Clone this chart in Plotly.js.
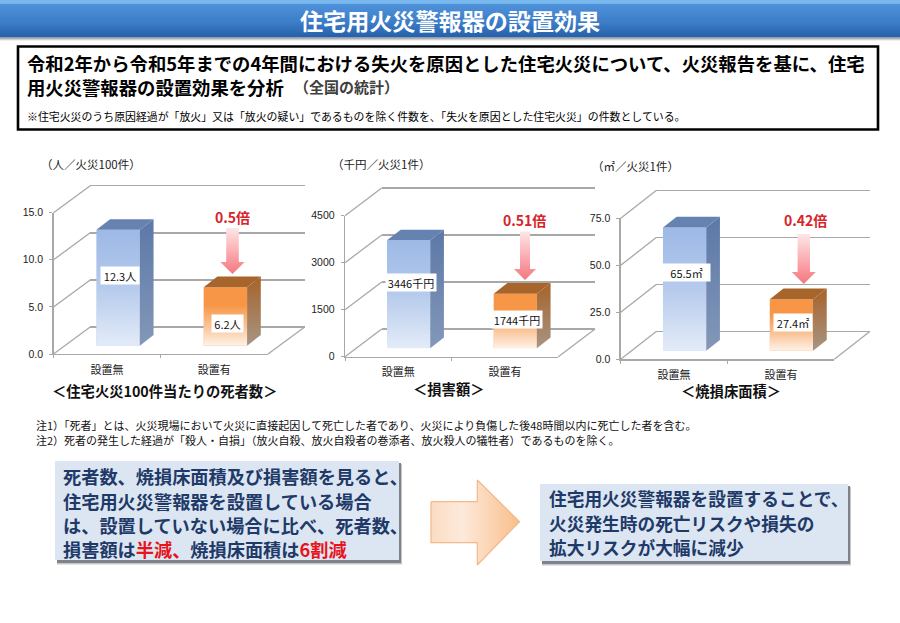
<!DOCTYPE html>
<html><head><meta charset="utf-8">
<script src="https://cdn.plot.ly/plotly-3.0.1.min.js"></script>
<style>html,body{margin:0;padding:0;background:#fff}</style></head>
<body><div id="chart" style="width:900px;height:623px"></div>
<script>
// ---- data ----
const categories = ['設置無', '設置有'];
const deathValues = [12.3, 6.2];
const damageValues = [3446, 1744];
const areaValues = [65.5, 27.4];
const deathTicks = [0, 5, 10, 15];
const damageTicks = [0, 1500, 3000, 4500];
const areaTicks = [0, 25, 50, 75];
const deathTickLabels = ['0.0', '5.0', '10.0', '15.0'];
const damageTickLabels = ['0', '1500', '3000', '4500'];
const areaTickLabels = ['0.0', '25.0', '50.0', '75.0'];
const deathRatio = '0.5倍';
const damageRatio = '0.51倍';
const areaRatio = '0.42倍';
const pageTitle = '住宅用火災警報器の設置効果';
const introLine1 = '令和2年から令和5年までの4年間における失火を原因とした住宅火災について、火災報告を基に、住宅';
const introLine2 = '用火災警報器の設置効果を分析';
const introLine2b = '（全国の統計）';
const introNote = '※住宅火災のうち原因経過が「放火」又は「放火の疑い」であるものを除く件数を、「失火を原因とした住宅火災」の件数としている。';
const note1 = '注1）「死者」とは、火災現場において火災に直接起因して死亡した者であり、火災により負傷した後48時間以内に死亡した者を含む。';
const note2 = '注2）死者の発生した経過が「殺人・自損」（放火自殺、放火自殺者の巻添者、放火殺人の犠牲者）であるものを除く。';
const leftLines = ['死者数、焼損床面積及び損害額を見ると、', '住宅用火災警報器を設置している場合', 'は、設置していない場合に比べ、死者数、',
  '損害額は<span style="color:#E8141C">半減、</span>焼損床面積は<span style="color:#E8141C">6割減</span>'];
const rightLines = ['住宅用火災警報器を設置することで、', '火災発生時の死亡リスクや損失の', '拡大リスクが大幅に減少'];

// ---- layout constants (pixels on the 900x623 page) ----
const W = 900, H = 623, FONT = '"Noto Sans CJK JP","Noto Sans",sans-serif';
const px = v => v / W, py = v => 1 - v / H;
const GRID = '#A8A8A8', TXT = '#222222';
const panels = [
  {values: deathValues, ticks: deathTicks, tickLabels: deathTickLabels, unit: '人', ratio: deathRatio,
   l: 53.5, r: 268, b: 354, t: 212.7, bx: 36.7, by: 27, sx: 11, sy: 8.3,
   labelY: [275.5, 323], labelW: [38, 31],
   unitText: '（人／火災100件）', unitX: 91, unitY: 164,
   title: '＜住宅火災100件当たりの死者数＞', titleX: 164.5, titleY: 390,
   ratioX: 232, ratioY: 216.5, arrow: {x: 232.5, sw: 6.3, hw: 12.2, top: 228, neck: 262, tip: 274}},
  {values: damageValues, ticks: damageTicks, tickLabels: damageTickLabels, unit: '千円', ratio: damageRatio,
   l: 345, r: 558.3, b: 356.7, t: 215.7, bx: 36.7, by: 27.7, sx: 10.3, sy: 8.4,
   labelY: [282, 320], labelW: [50, 50],
   unitText: '（千円／火災1件）', unitX: 381, unitY: 164,
   title: '＜損害額＞', titleX: 448, titleY: 388,
   ratioX: 524, ratioY: 220, arrow: {x: 525, sw: 5, hw: 11, top: 231.5, neck: 269, tip: 280}},
  {values: areaValues, ticks: areaTicks, tickLabels: areaTickLabels, unit: '㎡', ratio: areaRatio,
   l: 620.7, r: 834.3, b: 359.3, t: 218.3, bx: 35.5, by: 27.7, sx: 10.5, sy: 8.6,
   labelY: [272, 322.5], labelW: [47, 38],
   unitText: '（㎡／火災1件）', unitX: 635, unitY: 166,
   title: '＜焼損床面積＞', titleX: 731, titleY: 390,
   ratioX: 805, ratioY: 220.5, arrow: {x: 803.8, sw: 6.2, hw: 12, top: 234, neck: 272, tip: 284}}
];
const BAR_W = 0.405, DEPTH_X = 13.7, DEPTH_Y = 10.7, LABEL_H = 17, WALL_PAD = 3;
const skins = [
  {front: '#9DB9E6', side: ['#8398B8', '#5C78A8'], top: '#6682B0',
   fade: [[0, 'rgba(255,255,255,0.72)'], [0.5, 'rgba(255,255,255,0.25)'], [1, 'rgba(255,255,255,0)']]},
  {front: '#F79646', side: ['#A89484', '#A6632A'], top: '#A8652B',
   fade: [[0, 'rgba(255,255,255,0.88)'], [0.32, 'rgba(255,255,255,0.45)'], [0.7, 'rgba(255,255,255,0)'], [1, 'rgba(255,255,255,0)']]}
];

const traces = [], shapes = [], annotations = [];
const layout = {width: W, height: H, margin: {l: 0, r: 0, t: 0, b: 0}, autosize: false, showlegend: false,
  paper_bgcolor: '#fff', plot_bgcolor: 'rgba(0,0,0,0)', font: {family: FONT, color: TXT}, hovermode: false,
  shapes, annotations};
const axKey = (c, n) => c + 'axis' + (n === 1 ? '' : n);
const ref = (c, n) => c + (n === 1 ? '' : n);
const text = (x, y, t, size, color, o) => annotations.push(Object.assign({xref: 'paper', yref: 'paper', x: px(x), y: py(y), text: t,
  showarrow: false, xanchor: 'left', yanchor: 'middle', borderpad: 0, font: {family: FONT, size, color}}, o || {}));
const btext = (x, y, t, size, color, o) => { text(x, y, t, size, color, o); annotations[annotations.length - 1].font.weight = 700; };

panels.forEach((p, k) => {
  const back = 3 * k + 1, bars = 3 * k + 2, front = 3 * k + 3;
  const ymax = p.ticks[p.ticks.length - 1];
  const range = [0, ymax], xr = [-0.5, 1.5];
  const pxPerY = (p.b - p.t) / ymax, pxPerX = (p.r - p.l) / 2;
  const hidden = {visible: false, fixedrange: true};
  // back wall with its gridlines (padded so the first and last lines are not dropped at the axis ends)
  const padY = WALL_PAD / pxPerY;
  layout[axKey('x', back)] = {...hidden, range: xr, domain: [px(p.l + p.bx), px(p.r + p.bx)], anchor: ref('y', back)};
  layout[axKey('y', back)] = {range: [-padY, ymax + padY], domain: [py(p.b - p.by + WALL_PAD), py(p.t - p.by - WALL_PAD)], anchor: ref('x', back), fixedrange: true,
    tickvals: p.ticks, showticklabels: false, ticks: '', showgrid: true, gridcolor: GRID, gridwidth: 1.4, zeroline: false, showline: false};
  traces.push({type: 'scatter', mode: 'none', x: [0, 1], y: p.values, xaxis: ref('x', back), yaxis: ref('y', back), hoverinfo: 'skip'});
  // wall-to-front diagonals
  p.ticks.forEach(t => {
    const y = p.b - t * pxPerY;
    shapes.push({type: 'line', layer: 'below', xref: 'paper', yref: 'paper', x0: px(p.l), x1: px(p.l + p.bx), y0: py(y), y1: py(y - p.by), line: {color: GRID, width: 1.3}});
  });
  shapes.push({type: 'line', layer: 'below', xref: 'paper', yref: 'paper', x0: px(p.r), x1: px(p.r + p.bx), y0: py(p.b), y1: py(p.b - p.by), line: {color: GRID, width: 1.3}});
  // bars
  layout[axKey('x', bars)] = {...hidden, range: xr, domain: [px(p.l + p.sx), px(p.r + p.sx)], anchor: ref('y', bars)};
  layout[axKey('y', bars)] = {...hidden, range, domain: [py(p.b - p.sy), py(p.t - p.sy)], anchor: ref('x', bars)};
  const xb = ref('x', bars), yb = ref('y', bars);
  const dx = DEPTH_X / pxPerX, dy = DEPTH_Y / pxPerY;
  traces.push({type: 'bar', x: categories.map((c, i) => i), y: p.values, width: BAR_W, name: categories.join('/'),
    marker: {color: skins.map(s => s.front), line: {width: 0}}, xaxis: xb, yaxis: yb, hoverinfo: 'skip'});
  p.values.forEach((v, i) => {
    const a = i - BAR_W / 2, b = i + BAR_W / 2, s = skins[i];
    const face = (x, y, extra) => traces.push(Object.assign({type: 'scatter', mode: 'none', x, y, fill: 'toself', xaxis: xb, yaxis: yb, hoverinfo: 'skip'}, extra));
    face([a, b, b, a, a], [0, 0, v, v, 0], {fillgradient: {type: 'vertical', colorscale: s.fade}});
    face([b, b + dx, b + dx, b, b], [0, dy, v + dy, v, 0], {fillgradient: {type: 'vertical', colorscale: [[0, s.side[0]], [1, s.side[1]]]}});
    face([a, b, b + dx, a + dx, a], [v, v, v + dy, v + dy, v], {fillcolor: s.top});
    annotations.push({xref: xb, yref: 'paper', x: i + 0.018, y: py(p.labelY[i]), text: v + p.unit, showarrow: false,
      width: p.labelW[i], height: LABEL_H, bgcolor: '#fff', borderpad: 0, font: {family: FONT, size: 11, color: '#111'}, xanchor: 'center', yanchor: 'middle'});
  });
  // front axes: tick labels and axis lines
  layout[axKey('x', front)] = {type: 'category', categoryorder: 'array', categoryarray: categories, range: xr, tickson: 'boundaries',
    domain: [px(p.l), px(p.r)], anchor: ref('y', front), fixedrange: true, showline: true, linecolor: GRID, linewidth: 1.3, ticks: 'outside', ticklen: 3,
    tickcolor: GRID, showgrid: false, zeroline: false, tickfont: {family: FONT, size: 11, color: TXT}, ticklabelstandoff: 5};
  layout[axKey('y', front)] = {range, domain: [py(p.b), py(p.t)], anchor: ref('x', front), fixedrange: true, tickvals: p.ticks, ticktext: p.tickLabels,
    showline: true, linecolor: GRID, linewidth: 1.3, ticks: 'outside', ticklen: 3, tickcolor: GRID, showgrid: false, zeroline: false,
    tickfont: {family: 'Liberation Sans,' + FONT, size: 10.5, color: TXT}, ticklabelstandoff: 4, ticklabelshift: -1.5};
  traces.push({type: 'scatter', mode: 'none', x: categories, y: p.values, xaxis: ref('x', front), yaxis: ref('y', front), hoverinfo: 'skip'});
  // panel texts
  text(p.unitX, p.unitY, p.unitText, 11.5, TXT, {xanchor: 'center'});
  btext(p.titleX, p.titleY, p.title, 14.3, '#111', {xanchor: 'center'});
  btext(p.ratioX, p.ratioY, p.ratio, 14, '#D8232A', {xanchor: 'center'});
});

// ---- page furniture, drawn on a full-page pixel axis ----
const PG = 10, xp = 'x10', yp = 'y10';
layout[axKey('x', PG)] = {visible: false, range: [0, W], domain: [0, 1], anchor: yp, fixedrange: true};
layout[axKey('y', PG)] = {visible: false, range: [H, 0], domain: [0, 1], anchor: xp, fixedrange: true};
const poly = (x, y, o) => traces.push(Object.assign({type: 'scatter', mode: 'none', x, y, fill: 'toself', xaxis: xp, yaxis: yp, hoverinfo: 'skip'}, o));
const rectP = (x0, y0, x1, y1, o) => poly([x0, x1, x1, x0, x0], [y0, y0, y1, y1, y0], o);
// header
rectP(0, 0, 900, 37.5, {fillgradient: {type: 'vertical', start: 0, stop: 37.5, colorscale: [[0, '#79B8EE'], [0.09, '#79B8EE'], [0.12, '#4E92DA'], [0.6, '#3C7CC8'], [1, '#2460A8']]}});
rectP(0, 37.5, 900, 41, {fillgradient: {type: 'vertical', start: 37.5, stop: 41, colorscale: [[0, '#8A8F96'], [1, '#FFFFFF']]}});
// pink arrows
panels.forEach(p => {
  const a = p.arrow;
  poly([a.x - a.sw, a.x + a.sw, a.x + a.sw, a.x + a.hw, a.x, a.x - a.hw, a.x - a.sw, a.x - a.sw],
       [a.top, a.top, a.neck, a.neck, a.tip, a.neck, a.neck, a.top],
       {fillgradient: {type: 'vertical', start: a.top, stop: a.tip, colorscale: [[0, '#FDE6E6'], [0.45, '#FBB4B8'], [1, '#F4777F']]}});
});
// big arrow
poly([431, 477.3, 477.3, 519.5, 477.3, 477.3, 431, 431], [501.7, 501.7, 480, 521.7, 565, 542.7, 542.7, 501.7],
  {mode: 'lines', line: {color: '#F2B98A', width: 1.2},
   fillgradient: {type: 'horizontal', start: 431, stop: 519.5, colorscale: [[0, '#FBDCC2'], [0.35, '#FDEADB'], [1, '#F9BE8B']]}});
// boxes
const rect = (x0, y0, x1, y1, fill, line) => shapes.push({type: 'rect', layer: 'below', xref: 'paper', yref: 'paper', x0: px(x0), x1: px(x1), y0: py(y0), y1: py(y1), fillcolor: fill, line: line || {width: 0}});
rect(18, 46.5, 878, 129.5, '#fff', {color: '#000', width: 2.6});
[[55, 461, 399, 560], [540, 484, 848, 561]].forEach(b => {
  rect(b[0] + 2, b[1] + 3, b[2] + 3, b[3] + 4.5, '#C4C7CC');
  rect(b[0] + 2, b[1] + 2, b[2] + 2, b[3] + 3, '#7F8389');
  rect(b[0], b[1], b[2], b[3], '#DCE6F2');
});

// ---- texts ----
btext(450, 20, pageTitle, 23.1, '#fff', {xanchor: 'center'});
btext(25.5, 63.5, introLine1, 18.35, '#000');
btext(25.5, 87, introLine2, 18.35, '#000');
btext(293, 87, introLine2b, 15, '#404040');
text(25.5, 115.5, introNote, 10.9, '#000');
text(35, 425, note1, 11, '#111', {height: 13.5});
text(35, 439.5, note2, 11, '#111', {height: 13.5});
leftLines.forEach((t, i) => btext(61.5, [476, 501, 525, 549][i], t, 18.2, '#1F3A68'));
rightLines.forEach((t, i) => btext(547.5, [498, 523, 547][i], t, 17.7, '#1F3A68'));

Plotly.newPlot('chart', traces, layout, {staticPlot: true, displayModeBar: false});
</script></body></html>
